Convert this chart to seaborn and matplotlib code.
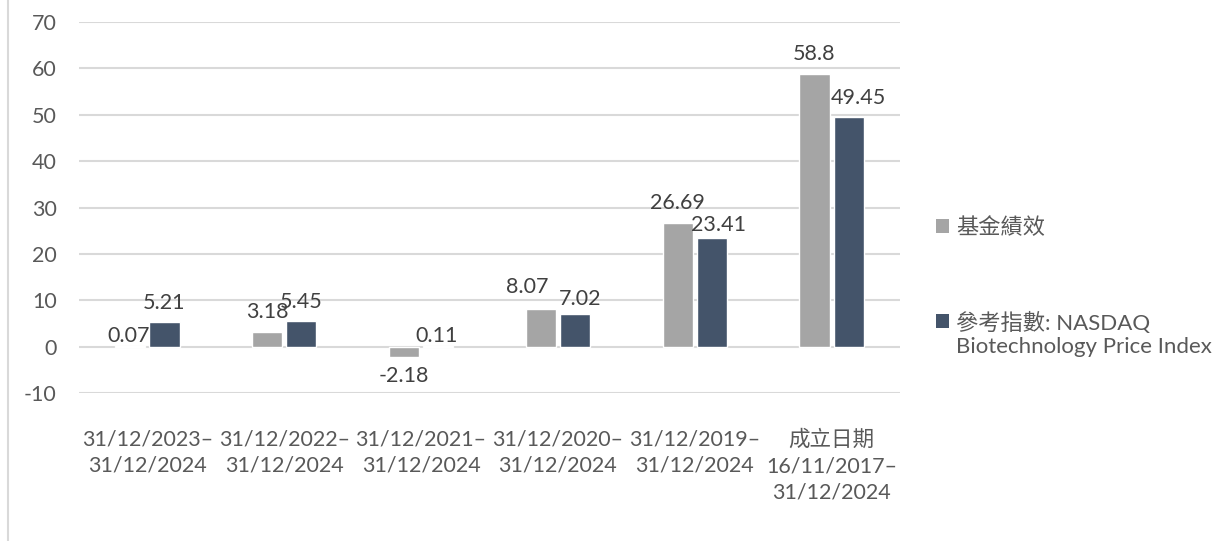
import pandas as pd
import seaborn as sns
import matplotlib.pyplot as plt
from matplotlib.patches import Patch
from matplotlib.lines import Line2D

# periods on the x axis
periods = ['31/12/2023–\n31/12/2024', '31/12/2022–\n31/12/2024',
           '31/12/2021–\n31/12/2024', '31/12/2020–\n31/12/2024',
           '31/12/2019–\n31/12/2024', '成立日期\n16/11/2017–\n31/12/2024']
fund_values = [0.07, 3.18, -2.18, 8.07, 26.69, 58.8]
index_values = [5.21, 5.45, 0.11, 7.02, 23.41, 49.45]
series_names = ['基金績效', '參考指數: NASDAQ\nBiotechnology Price Index']
colors = ['#A5A5A5', '#44546A']
y_ticks = [-10, 0, 10, 20, 30, 40, 50, 60, 70]

df = pd.DataFrame({
    'period': periods * 2,
    'value': fund_values + index_values,
    'series': [series_names[0]] * len(periods) + [series_names[1]] * len(periods),
})

sns.set_style('white')
plt.rcParams['font.family'] = ['Lato', 'Noto Sans CJK TC', 'DejaVu Sans']
plt.rcParams['axes.unicode_minus'] = False
text_col = '#595959'
fs = 15.5

fig = plt.figure(figsize=(12.24, 5.41), dpi=100)
ax = fig.add_axes([79 / 1224, 1 - 393 / 541, (900 - 79) / 1224, (393 - 22) / 541])

sns.barplot(data=df, x='period', y='value', hue='series', palette=colors,
            width=0.5, gap=0.12, ax=ax, legend=False, saturation=1)

# small nudges (pixels: right, up) so neighbouring labels don't collide, like in the original
nudge = {(0, 0): (-2, -9), (0, 3): (-14, 2),
         (1, 2): (-2, -10), (1, 3): (5, -5), (1, 4): (7, -7), (1, 5): (10, 0)}
for s, cont in enumerate(ax.containers):
    anns = ax.bar_label(cont, fmt='%g', padding=7, fontsize=fs, color='#404040')
    for g, ann in enumerate(anns):
        dx, dy = nudge.get((s, g), (0, 0))
        x0, y0 = ann.xyann
        if y0 < 0:
            dy = 0
        ann.xyann = (x0 + dx * 0.72, y0 + dy * 0.72)

ax.set_ylim(-10, 70)
ax.set_yticks(y_ticks)
ax.set_xlim(-0.5, len(periods) - 0.5)
ax.yaxis.grid(True, color='#D9D9D9', linewidth=1.5)
ax.set_axisbelow(True)
sns.despine(ax=ax, left=True, bottom=True)
ax.tick_params(axis='y', length=0, pad=16, labelsize=fs, labelcolor=text_col)
ax.tick_params(axis='x', length=0, pad=26, labelsize=fs, labelcolor=text_col)
for lab in ax.get_xticklabels():
    lab.set_linespacing(1.4)
ax.set_xlabel('')
ax.set_ylabel('')

handles = [Patch(facecolor=c, edgecolor='none') for c in colors]
leg = fig.legend(handles, series_names, loc='upper left',
                 bbox_to_anchor=(916 / 1224, 1 - 197 / 541), frameon=False,
                 handlelength=0.6, handleheight=0.6, handletextpad=0.3,
                 labelspacing=3.35, fontsize=16, labelcolor=text_col)
for t in leg.get_texts():
    t.set_linespacing(1.15)
# put the second marker on the first line of its two-line label
hp = leg.legend_handles[1]
hp.set_y(hp.get_y() + 9.5)

fig.add_artist(Line2D([8 / 1224, 8 / 1224], [0, 1], color='#D9D9D9', linewidth=1.5))

fig.savefig('out.png', dpi=100)
